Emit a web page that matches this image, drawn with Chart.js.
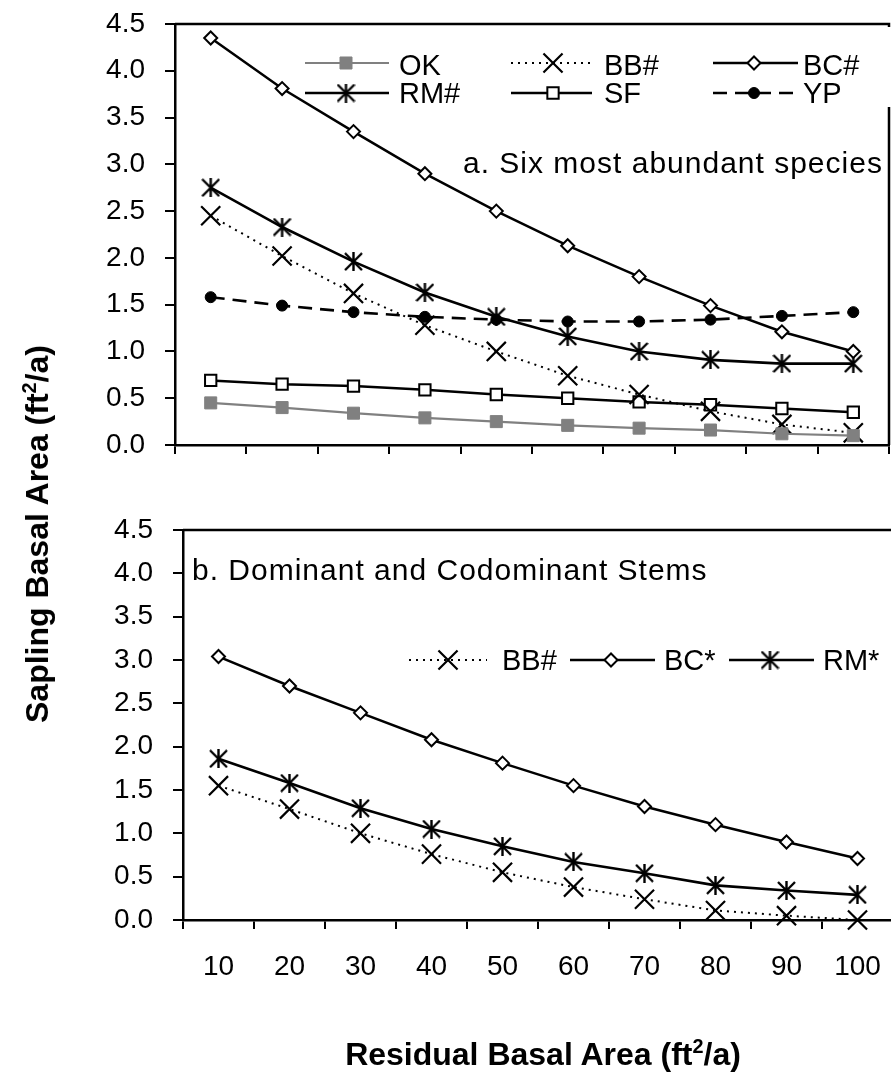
<!DOCTYPE html>
<html><head><meta charset="utf-8">
<script src="https://cdn.jsdelivr.net/npm/chart.js@4.4.1/dist/chart.umd.min.js"></script>
<style>
html,body{margin:0;padding:0;background:#fff;}
body{width:891px;height:1072px;overflow:hidden;position:relative;font-family:'Liberation Sans',Arial,sans-serif;color:#000;}
canvas{position:absolute;left:0;}
#c1{top:0}
#c2{top:480px}
.ytitle{position:absolute;left:37px;top:534px;transform:translate(-50%,-50%) rotate(-90deg);font-weight:bold;font-size:32px;white-space:nowrap;line-height:32px;}
.xtitle{position:absolute;left:543px;top:1038px;transform:translateX(-50%);font-weight:bold;font-size:32px;white-space:nowrap;line-height:32px;}
sup{font-size:0.62em;line-height:0;vertical-align:0.62em;}
</style></head><body>
<canvas id="c1" width="891" height="480"></canvas>
<canvas id="c2" width="900" height="592"></canvas>
<div class="ytitle">Sapling Basal Area (ft<sup>2</sup>/a)</div>
<div class="xtitle">Residual Basal Area (ft<sup>2</sup>/a)</div>
<script>
// ---- data ----
const categories = ['10', '20', '30', '40', '50', '60', '70', '80', '90', '100'];
const yTickLabels = ['0.0', '0.5', '1.0', '1.5', '2.0', '2.5', '3.0', '3.5', '4.0', '4.5'];
const panelANote = 'a. Six most abundant species';
const panelBNote = 'b. Dominant and Codominant Stems';

const okValues  = [0.45, 0.40, 0.34, 0.29, 0.25, 0.21, 0.18, 0.16, 0.12, 0.10];
const bbValuesA = [2.45, 2.02, 1.62, 1.28, 1.00, 0.74, 0.54, 0.36, 0.22, 0.13];
const bcValuesA = [4.35, 3.81, 3.35, 2.90, 2.50, 2.13, 1.80, 1.49, 1.21, 1.00];
const rmValuesA = [2.75, 2.33, 1.96, 1.63, 1.37, 1.16, 1.00, 0.91, 0.87, 0.87];
const sfValues  = [0.69, 0.65, 0.63, 0.59, 0.54, 0.50, 0.46, 0.43, 0.39, 0.35];
const ypValues  = [1.58, 1.49, 1.42, 1.37, 1.34, 1.32, 1.32, 1.34, 1.38, 1.42];

const bbValuesB = [1.55, 1.28, 1.00, 0.76, 0.55, 0.38, 0.24, 0.11, 0.05, 0.00];
const bcValuesB = [3.04, 2.70, 2.39, 2.08, 1.81, 1.55, 1.31, 1.10, 0.90, 0.71];
const rmValuesB = [1.86, 1.58, 1.29, 1.05, 0.85, 0.67, 0.54, 0.40, 0.34, 0.29];

// ---- styles ----
const FONT = "'Liberation Sans', Arial, sans-serif";

function makeAsterisk(size, lw) {
  const c = document.createElement('canvas');
  c.width = size; c.height = size;
  const g = c.getContext('2d');
  g.strokeStyle = '#000'; g.lineWidth = lw;
  const m = 1;
  g.beginPath();
  g.moveTo(m, m); g.lineTo(size - m, size - m);
  g.moveTo(size - m, m); g.lineTo(m, size - m);
  g.moveTo(size / 2, 0); g.lineTo(size / 2, size);
  g.stroke();
  return c;
}
const asterisk = makeAsterisk(19, 2.4);

const st = {
  ok: {borderColor: '#808080', borderWidth: 2.2, pointStyle: 'rect', pointRadius: 8.5, pointBackgroundColor: '#808080', pointBorderColor: '#808080', pointBorderWidth: 1},
  bb: {borderColor: '#000', borderWidth: 2, borderDash: [2, 5], pointStyle: 'crossRot', pointRadius: 13.5, pointBackgroundColor: '#000', pointBorderColor: '#000', pointBorderWidth: 2.2},
  bc: {borderColor: '#000', borderWidth: 2.5, pointStyle: 'rectRot', pointRadius: 6.5, pointBackgroundColor: '#fff', pointBorderColor: '#000', pointBorderWidth: 2},
  rm: {borderColor: '#000', borderWidth: 2.6, pointStyle: asterisk, pointRadius: 9, pointBackgroundColor: '#000', pointBorderColor: '#000', pointBorderWidth: 2},
  sf: {borderColor: '#000', borderWidth: 2.4, pointStyle: 'rect', pointRadius: 8, pointBackgroundColor: '#fff', pointBorderColor: '#000', pointBorderWidth: 2},
  yp: {borderColor: '#000', borderWidth: 2.6, borderDash: [14, 8], pointStyle: 'circle', pointRadius: 5.5, pointBackgroundColor: '#000', pointBorderColor: '#000', pointBorderWidth: 1}
};
function ds(label, data, s) {
  return Object.assign({label, data, tension: 0, clip: false, fill: false}, s);
}

// frame (top & optional right) plugin
const framePlugin = {
  id: 'frame',
  beforeDatasetsDraw(chart, args, opts) {
    const {ctx, chartArea: a} = chart;
    ctx.save();
    ctx.strokeStyle = '#000'; ctx.lineWidth = 2.5;
    ctx.beginPath();
    ctx.moveTo(a.left, a.top); ctx.lineTo(a.right, a.top);
    if (opts.right !== false) ctx.lineTo(a.right, a.bottom);
    ctx.stroke();
    ctx.restore();
  }
};

// legend + note plugin
const legendPlugin = {
  id: 'customLegend',
  afterDraw(chart, args, opts) {
    const ctx = chart.ctx;
    ctx.save();
    if (opts.box) { ctx.fillStyle = '#fff'; ctx.fillRect(opts.box[0], opts.box[1], opts.box[2], opts.box[3]); }
    (opts.items || []).forEach(it => {
      const d = chart.data.datasets[it.ds];
      ctx.save();
      ctx.strokeStyle = d.borderColor; ctx.lineWidth = d.borderWidth;
      ctx.setLineDash(d.borderDash || []);
      ctx.beginPath(); ctx.moveTo(it.x0, it.y); ctx.lineTo(it.x1, it.y); ctx.stroke();
      ctx.setLineDash([]);
      ctx.fillStyle = d.pointBackgroundColor; ctx.strokeStyle = d.pointBorderColor; ctx.lineWidth = d.pointBorderWidth;
      Chart.helpers.drawPoint(ctx, {pointStyle: d.pointStyle, radius: d.pointRadius, borderWidth: d.pointBorderWidth, rotation: 0}, it.xm, it.y);
      ctx.restore();
      ctx.fillStyle = '#000'; ctx.font = opts.font; ctx.textBaseline = 'alphabetic'; ctx.textAlign = 'left';
      ctx.fillText(d.label, it.xt, it.ty);
    });
    if (opts.note) {
      ctx.fillStyle = '#000'; ctx.font = opts.noteFont; ctx.textBaseline = 'alphabetic'; ctx.textAlign = 'left';
      try { ctx.letterSpacing = opts.noteSpacing || '0px'; } catch (e) {}
      ctx.fillText(opts.note, opts.noteX, opts.noteY);
      try { ctx.letterSpacing = '0px'; } catch (e) {}
    }
    ctx.restore();
  }
};

function noPad(s) { s.paddingTop = 0; s.paddingBottom = 0; s.paddingLeft = 0; s.paddingRight = 0; }

function scales(yWidth, xHeight, showX, xPad) {
  return {
    x: {
      type: 'category', offset: true,
      grid: {offset: true, drawOnChartArea: false, drawTicks: true, tickLength: 9, color: '#000', lineWidth: 2},
      border: {display: true, color: '#000', width: 2.5},
      ticks: {display: showX, color: '#000', font: {family: FONT, size: 28}, padding: xPad, maxRotation: 0, autoSkip: false},
      afterFit: s => { s.height = xHeight; noPad(s); }
    },
    y: {
      min: 0, max: 4.5,
      grid: {drawOnChartArea: false, drawTicks: true, tickLength: 10, color: '#000', lineWidth: 2},
      border: {display: true, color: '#000', width: 2.5},
      ticks: {stepSize: 0.5, color: '#000', font: {family: FONT, size: 28}, padding: 20,
        callback: (v, i) => yTickLabels[i]},
      afterFit: s => { s.width = yWidth; noPad(s); }
    }
  };
}

const common = {
  responsive: false, animation: false, events: [],
  plugins: {legend: {display: false}, tooltip: {enabled: false}}
};

new Chart(document.getElementById('c1'), {
  type: 'line',
  data: {
    labels: categories,
    datasets: [
      ds('OK', okValues, st.ok),
      ds('BB#', bbValuesA, st.bb),
      ds('BC#', bcValuesA, st.bc),
      ds('RM#', rmValuesA, st.rm),
      ds('SF', sfValues, st.sf),
      ds('YP', ypValues, st.yp)
    ]
  },
  options: Object.assign({}, common, {
    layout: {autoPadding: false, padding: {top: 24, right: 2, left: 0, bottom: 0}},
    scales: scales(175, 35, false, 0),
    plugins: Object.assign({}, common.plugins, {
      frame: {right: true},
      customLegend: {
        box: [322, 27, 569, 80],
        font: '29px ' + FONT,
        items: [
          {ds: 0, x0: 305, x1: 389, xm: 346, y: 63, xt: 399, ty: 75},
          {ds: 1, x0: 511, x1: 592, xm: 553, y: 63, xt: 604, ty: 75},
          {ds: 2, x0: 713, x1: 798, xm: 754, y: 63, xt: 803, ty: 75},
          {ds: 3, x0: 305, x1: 389, xm: 346, y: 93, xt: 399, ty: 103},
          {ds: 4, x0: 511, x1: 592, xm: 553, y: 93, xt: 604, ty: 103},
          {ds: 5, x0: 713, x1: 798, xm: 754, y: 93, xt: 803, ty: 103}
        ],
        note: panelANote, noteFont: '30px ' + FONT, noteSpacing: '1px', noteX: 463, noteY: 173
      }
    })
  }),
  plugins: [framePlugin, legendPlugin]
});

new Chart(document.getElementById('c2'), {
  type: 'line',
  data: {
    labels: categories,
    datasets: [
      ds('BB#', bbValuesB, st.bb),
      ds('BC*', bcValuesB, st.bc),
      ds('RM*', rmValuesB, st.rm)
    ]
  },
  options: Object.assign({}, common, {
    layout: {autoPadding: false, padding: {top: 50, right: 7, left: 0, bottom: 0}},
    scales: scales(183, 152, true, 21),
    plugins: Object.assign({}, common.plugins, {
      frame: {right: false},
      customLegend: {
        font: '29px ' + FONT,
        items: [
          {ds: 0, x0: 409, x1: 487, xm: 448, y: 180, xt: 502, ty: 190},
          {ds: 1, x0: 570, x1: 655, xm: 611, y: 180, xt: 664, ty: 190},
          {ds: 2, x0: 729, x1: 814, xm: 770, y: 180, xt: 823, ty: 190}
        ],
        note: panelBNote, noteFont: '30px ' + FONT, noteSpacing: '1px', noteX: 192, noteY: 100
      }
    })
  }),
  plugins: [framePlugin, legendPlugin]
});
</script>
</body></html>
